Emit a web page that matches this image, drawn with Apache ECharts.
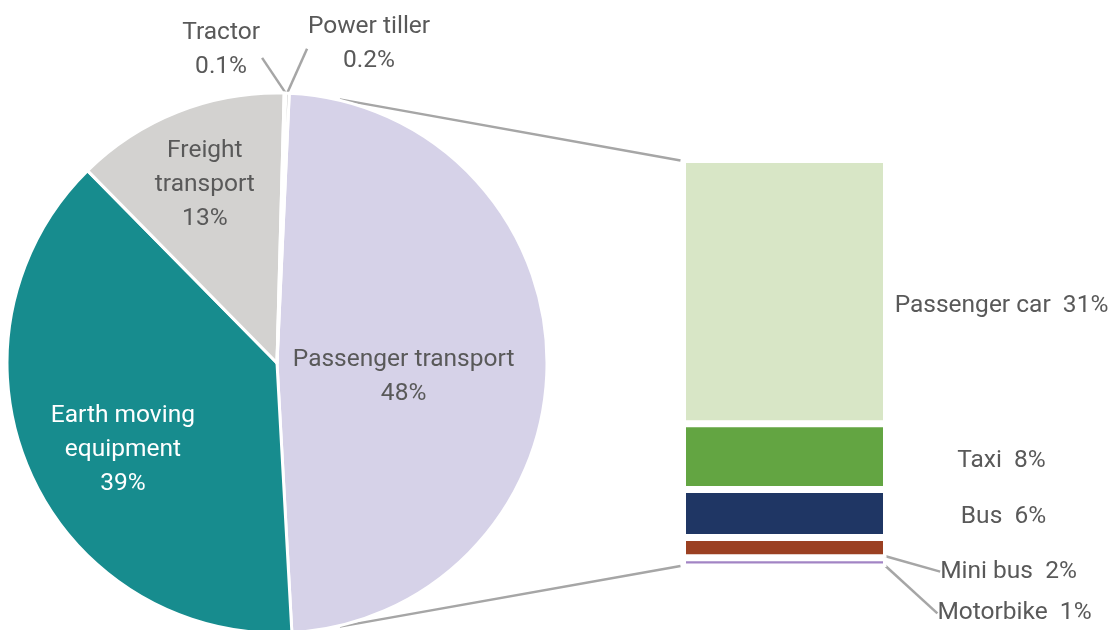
<!DOCTYPE html>
<html>
<head>
<meta charset="utf-8">
<script src="https://cdn.jsdelivr.net/npm/echarts@6/dist/echarts.min.js"></script>
<style>
  html, body { margin: 0; padding: 0; background: #fff; }
  #main { width: 1113px; height: 630px; }
</style>
</head>
<body>
<div id="main"></div>
<script>
// pie: share by vehicle group
const pieNames = ['Passenger transport', 'Earth moving equipment', 'Freight transport', 'Tractor', 'Power tiller'];
const pieLabels = ['Passenger transport', 'Earth moving\nequipment', 'Freight\ntransport', 'Tractor', 'Power tiller'];
const pieValues = [48.4, 38.5, 12.8, 0.1, 0.2];
const pieColors = ['#D6D2E8', '#178C8E', '#D3D2D0', '#8C8C8C', '#B0B0B0'];

// bar: breakdown of passenger transport (top to bottom)
const barNames = ['Passenger car', 'Taxi', 'Bus', 'Mini bus', 'Motorbike'];
const barValues = [31.4, 7.8, 5.7, 2.4, 1.1];
const barColors = ['#D8E6C6', '#63A542', '#1F3664', '#9B4022', '#A284C4'];

const TEXT = '#595959';
const LINE = '#A6A6A6';
const FONT = 'Roboto';
const FS = 24.5;
const TEXT_DY = 4;

// layout
const CX = 277, CY = 363, R = 270;
const START = 87.4;                 // echarts degrees, counter-clockwise from 3 o'clock
const GRID_LEFT = 682.5, GRID_TOP = 159.5, GRID_W = 204, GRID_BOTTOM = 63;
// pie label spots: [radius, angle clockwise from 12 o'clock]
const pieLabelSpots = [[127, 94.5], [175, 241.7], [196, 338.4], [322, 350], [336, 15.9]];
// bar label offsets: [dx from bar right edge to label centre, dy from bar middle]
const barLabelShift = [[115, 10], [115, 0], [117, -1], [122, 20], [128, 47]];

const total = pieValues.reduce((a, b) => a + b, 0);
const rad = d => d * Math.PI / 180;
const onPie = (deg, r) => [CX + r * Math.sin(rad(deg)), CY - r * Math.cos(rad(deg))];

// mid angle (clockwise from top) of each slice
const offset0 = 90 - START;
const midAngles = [];
let acc = 0;
pieValues.forEach(v => {
  const span = v / total * 360;
  midAngles.push(offset0 + acc + span / 2);
  acc += span;
});

function pct(v) {
  return v < 1 ? v.toFixed(1) + '%' : Math.round(v) + '%';
}

const pieData = pieNames.map((n, i) => {
  const item = { name: n, value: pieValues[i], itemStyle: { color: pieColors[i] } };
  if (i === 1) item.label = { color: '#fff' };
  if (i >= 3) {
    item.label = { position: 'outside' };
    item.labelLine = { show: true, lineStyle: { color: LINE, width: 2.5 } };
  }
  return item;
});

const series = [{
  type: 'pie',
  center: [CX, CY],
  radius: R,
  startAngle: START,
  clockwise: true,
  avoidLabelOverlap: false,
  animation: false,
  itemStyle: { borderColor: '#fff', borderWidth: 3 },
  label: {
    position: 'inside',
    color: TEXT,
    fontFamily: FONT,
    fontSize: FS,
    lineHeight: 34,
    align: 'center',
    formatter: p => pieLabels[p.dataIndex] + '\n' + pct(p.value)
  },
  labelLine: { show: false },
  labelLayout: function (p) {
    const i = p.dataIndex;
    const spot = onPie(pieLabelSpots[i][1], pieLabelSpots[i][0]);
    const res = { x: spot[0], y: spot[1] + TEXT_DY, align: 'center', verticalAlign: 'middle' };
    if (i >= 3) {
      const edge = onPie(midAngles[i], R + 1);
      const start = i === 3
        ? [spot[0] + 41, spot[1] + 12]
        : [spot[0] - 62, spot[1] + 9];
      res.labelLinePoints = [edge, edge, start];
    }
    return res;
  },
  data: pieData
}];

// stack bottom-up so the first name ends on top
for (let k = barNames.length - 1; k >= 0; k--) {
  const i = k;
  series.push({
    type: 'bar',
    name: barNames[i],
    stack: 'pt',
    barWidth: '100%',
    animation: false,
    itemStyle: { color: barColors[i], borderColor: '#fff', borderWidth: 3.5 },
    label: {
      show: true,
      color: TEXT,
      fontFamily: FONT,
      fontSize: FS,
      formatter: () => barNames[i] + '  ' + pct(barValues[i])
    },
    labelLine: { show: i >= 3, lineStyle: { color: LINE, width: 2.5 } },
    labelLayout: function (p) {
      const r = p.rect;
      const x = r.x + r.width + barLabelShift[i][0];
      const y = r.y + r.height / 2 + barLabelShift[i][1];
      const res = { x: x, y: y + TEXT_DY, align: 'center', verticalAlign: 'middle' };
      if (i >= 3) {
        const w = p.labelRect.width;
        const a = [r.x + r.width + 2, r.y + r.height / 2];
        res.labelLinePoints = [a, a, [x - w / 2 - 9, y + 1]];
      }
      return res;
    },
    data: [barValues[i]]
  });
}

// connector lines from the passenger slice to the bar
const CONN = 13.4;
const pTop = onPie(CONN, R + 1);
const pBot = onPie(180 - CONN, R + 1);
const barBottomY = 630 - GRID_BOTTOM;

const option = {
  backgroundColor: '#fff',
  grid: { left: GRID_LEFT, top: GRID_TOP, width: GRID_W, bottom: GRID_BOTTOM },
  xAxis: { type: 'category', data: ['PT'], show: false },
  yAxis: { type: 'value', min: 0, max: barValues.reduce((a, b) => a + b, 0), show: false },
  graphic: [
    { type: 'line', shape: { x1: pTop[0], y1: pTop[1], x2: GRID_LEFT - 2, y2: GRID_TOP + 1 },
      style: { stroke: LINE, lineWidth: 2.5 } },
    { type: 'line', shape: { x1: pBot[0], y1: pBot[1], x2: GRID_LEFT - 2, y2: barBottomY - 1 },
      style: { stroke: LINE, lineWidth: 2.5 } }
  ],
  series: series
};

const myChart = echarts.init(document.getElementById('main'));
myChart.setOption(option);
</script>
</body>
</html>
